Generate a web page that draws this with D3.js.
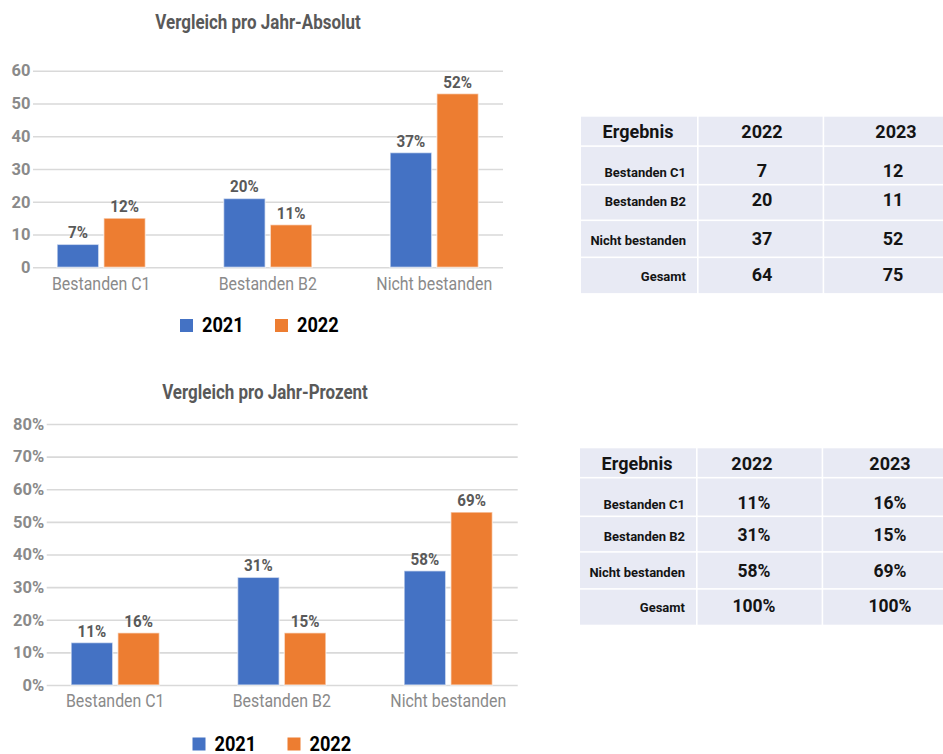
<!DOCTYPE html>
<html>
  <head>
	<meta charset="UTF-8">
    <title>Vergleich pro Jahr</title>
	<script type="text/javascript" src="https://cdn.jsdelivr.net/npm/d3@7/dist/d3.min.js"></script>
	<style>
		body { margin: 0; background: #fff; }
		svg { display: block; font-family: Roboto, "Noto Sans", sans-serif; }
	</style>
  </head>
  <body>
    <svg width="943" height="754"></svg>
    <script>
    	// data
    	var categories = ["Bestanden C1", "Bestanden B2", "Nicht bestanden"];
    	var seriesNames = ["2021", "2022"];
    	var colors = ["#4472C4", "#ED7D31"];

    	// bar heights as drawn in the chart (top chart, absolute)
    	var abs2021 = [7, 21, 35];
    	var abs2022 = [15, 13, 53];
    	var absLabels2021 = ["7%", "20%", "37%"];
    	var absLabels2022 = ["12%", "11%", "52%"];
    	var absTicks = [0, 10, 20, 30, 40, 50, 60];

    	// bottom chart, percent
    	var pct2021 = [13, 33, 35];
    	var pct2022 = [16, 16, 53];
    	var pctLabels2021 = ["11%", "31%", "58%"];
    	var pctLabels2022 = ["16%", "15%", "69%"];
    	var pctTicks = [0, 10, 20, 30, 40, 50, 60, 70, 80];

    	// tables
    	var tableHeader = ["Ergebnis", "2022", "2023"];
    	var rowLabels = ["Bestanden C1", "Bestanden B2", "Nicht bestanden", "Gesamt"];
    	var absCol2022 = ["7", "20", "37", "64"];
    	var absCol2023 = ["12", "11", "52", "75"];
    	var pctCol2022 = ["11%", "31%", "58%", "100%"];
    	var pctCol2023 = ["16%", "15%", "69%", "100%"];

    	var svg = d3.select("svg");

    	// squeeze text horizontally (the original uses a condensed face)
    	function condense(sel, k){
    		sel.each(function(){
    			var t = d3.select(this);
    			var x = +t.attr("x") || 0, y = +t.attr("y") || 0;
    			t.attr("x", 0).attr("y", 0)
    				.attr("transform", "translate(" + x + "," + y + ") scale(" + k + ",1)");
    		});
    	}

    	function drawChart(cfg){
    		var g = svg.append("g");

    		var y = d3.scaleLinear().domain(cfg.domain).range([cfg.y0, cfg.y1]);
    		var x = d3.scaleBand()
    			.domain(categories)
    			.range(cfg.xRange)
    			.paddingInner(0.47)
    			.paddingOuter(0.235);
    		var xs = d3.scaleBand()
    			.domain(seriesNames)
    			.range([0, x.bandwidth()])
    			.paddingInner(0.11);

    		// title
    		g.append("text")
    			.attr("x", cfg.titleX)
    			.attr("y", cfg.titleY)
    			.attr("text-anchor", "middle")
    			.attr("font-size", 19.5)
    			.attr("font-weight", "bold")
    			.attr("fill", "#595959")
    			.text(cfg.title)
    			.call(condense, 0.87);

    		// y axis + gridlines
    		var axis = g.append("g")
    			.attr("transform", "translate(" + cfg.gridX0 + ",0)")
    			.call(d3.axisLeft(y)
    				.tickValues(cfg.ticks)
    				.tickFormat(cfg.tickFormat)
    				.tickSize(-(cfg.gridX1 - cfg.gridX0))
    				.tickPadding(2.5));
    		axis.select(".domain").remove();
    		axis.selectAll("line")
    			.attr("stroke", "#d9d9d9")
    			.attr("stroke-width", 1.6);
    		axis.selectAll("text")
    			.attr("font-family", "Roboto")
    			.attr("font-size", 16.5)
    			.attr("font-weight", "bold")
    			.attr("fill", "#8a8a8a");

    		// bars
    		var rows = categories.map(function(c, i){
    			return {cat: c, vals: cfg.series.map(function(s, j){
    				return {name: seriesNames[j], value: s[i], label: cfg.labels[j][i], color: colors[j]};
    			})};
    		});
    		var groups = g.selectAll(".grp")
    			.data(rows)
    			.enter()
    			.append("g")
    			.attr("transform", function(d){ return "translate(" + x(d.cat) + ",0)"; });
    		groups.selectAll("rect")
    			.data(function(d){ return d.vals; })
    			.enter()
    			.append("rect")
    			.attr("x", function(d){ return xs(d.name); })
    			.attr("y", function(d){ return y(d.value); })
    			.attr("width", xs.bandwidth())
    			.attr("height", function(d){ return y(0) - y(d.value); })
    			.attr("fill", function(d){ return d.color; })
    			.attr("stroke", "rgba(255,255,255,0.55)")
    			.attr("stroke-width", 1.4);
    		groups.selectAll(".lbl")
    			.data(function(d){ return d.vals; })
    			.enter()
    			.append("text")
    			.attr("x", function(d){ return xs(d.name) + xs.bandwidth() / 2; })
    			.attr("y", function(d){ return y(d.value) - 6; })
    			.attr("text-anchor", "middle")
    			.attr("font-size", 16)
    			.attr("font-weight", "bold")
    			.attr("fill", "#595959")
    			.text(function(d){ return d.label; })
    			.call(condense, 0.95);

    		// category labels
    		g.selectAll(".cat")
    			.data(categories)
    			.enter()
    			.append("text")
    			.attr("x", function(d){ return x(d) + x.bandwidth() / 2; })
    			.attr("y", cfg.catY)
    			.attr("text-anchor", "middle")
    			.attr("font-size", 18.5)
    			.attr("fill", "#8a8a8a")
    			.text(function(d){ return d; })
    			.call(condense, 0.86);

    		// legend
    		var leg = g.selectAll(".leg")
    			.data(seriesNames)
    			.enter()
    			.append("g")
    			.attr("transform", function(d, i){ return "translate(" + (cfg.legX + i * 95) + "," + cfg.legY + ")"; });
    		leg.append("rect")
    			.attr("width", 13)
    			.attr("height", 13)
    			.attr("fill", function(d, i){ return colors[i]; });
    		leg.append("text")
    			.attr("x", 22)
    			.attr("y", 13)
    			.attr("font-size", 20)
    			.attr("font-weight", "bold")
    			.attr("fill", "#000")
    			.text(function(d){ return d; })
    			.call(condense, 0.91);
    	}

    	function drawTable(cfg){
    		var g = svg.append("g");
    		var colW = [116, 124, 120];
    		var rowH = [28.6, 37, 34, 35.4, 35];
    		var gap = 1.6;
    		var colX = [], rowY = [];
    		colW.reduce(function(a, w){ colX.push(a); return a + w + gap; }, cfg.x);
    		rowH.reduce(function(a, h){ rowY.push(a); return a + h + gap; }, cfg.y);

    		var cells = [];
    		rowH.forEach(function(h, r){
    			colW.forEach(function(w, c){
    				cells.push({x: colX[c], y: rowY[r], w: w, h: h});
    			});
    		});
    		g.selectAll("rect")
    			.data(cells)
    			.enter()
    			.append("rect")
    			.attr("x", function(d){ return d.x; })
    			.attr("y", function(d){ return d.y; })
    			.attr("width", function(d){ return d.w; })
    			.attr("height", function(d){ return d.h; })
    			.attr("fill", "#e8eaf4");

    		// header
    		g.selectAll(".hdr")
    			.data(tableHeader)
    			.enter()
    			.append("text")
    			.attr("x", function(d, i){ return cfg.headX[i]; })
    			.attr("y", cfg.base[0])
    			.attr("text-anchor", "middle")
    			.attr("font-size", 18)
    			.attr("font-weight", "bold")
    			.attr("fill", "#141414")
    			.text(function(d){ return d; });

    		// body rows
    		var body = rowLabels.map(function(l, i){ return [l, cfg.col1[i], cfg.col2[i]]; });
    		var tr = g.selectAll(".row")
    			.data(body)
    			.enter()
    			.append("g");
    		tr.append("text")
    			.attr("x", cfg.labelX)
    			.attr("y", function(d, i){ return cfg.base[i + 1]; })
    			.attr("text-anchor", "end")
    			.attr("font-size", 13)
    			.attr("font-weight", "bold")
    			.attr("fill", "#141414")
    			.text(function(d){ return d[0]; });
    		[1, 2].forEach(function(c){
    			tr.append("text")
    				.attr("x", cfg.valX[c - 1])
    				.attr("y", function(d, i){ return cfg.base[i + 1]; })
    				.attr("text-anchor", "middle")
    				.attr("font-size", cfg.valSize)
    				.attr("font-weight", "bold")
    				.attr("fill", "#141414")
    				.text(function(d){ return d[c]; });
    		});
    	}

    	drawChart({
    		title: "Vergleich pro Jahr-Absolut", titleX: 258, titleY: 29,
    		domain: [0, 60], y0: 267.3, y1: 70.7, ticks: absTicks,
    		tickFormat: function(d){ return d; },
    		xRange: [18, 517.5], gridX0: 33, gridX1: 503,
    		series: [abs2021, abs2022], labels: [absLabels2021, absLabels2022],
    		catY: 290, legX: 180, legY: 319
    	});
    	drawChart({
    		title: "Vergleich pro Jahr-Prozent", titleX: 265, titleY: 399,
    		domain: [0, 80], y0: 685, y1: 424, ticks: pctTicks,
    		tickFormat: function(d){ return d + "%"; },
    		xRange: [32, 531.5], gridX0: 46.7, gridX1: 517.7,
    		series: [pct2021, pct2022], labels: [pctLabels2021, pctLabels2022],
    		catY: 707, legX: 192.5, legY: 737.5
    	});

    	drawTable({
    		x: 581, y: 116.7, headX: [638, 762, 896], labelX: 686, valX: [762, 893],
    		base: [137.5, 177, 206, 245, 281], valSize: 18,
    		col1: absCol2022, col2: absCol2023
    	});
    	drawTable({
    		x: 580, y: 448.3, headX: [637, 752, 890], labelX: 685, valX: [754, 890],
    		base: [469.5, 509, 540.5, 577, 612], valSize: 17.5,
    		col1: pctCol2022, col2: pctCol2023
    	});
    </script>
  </body>
</html>
